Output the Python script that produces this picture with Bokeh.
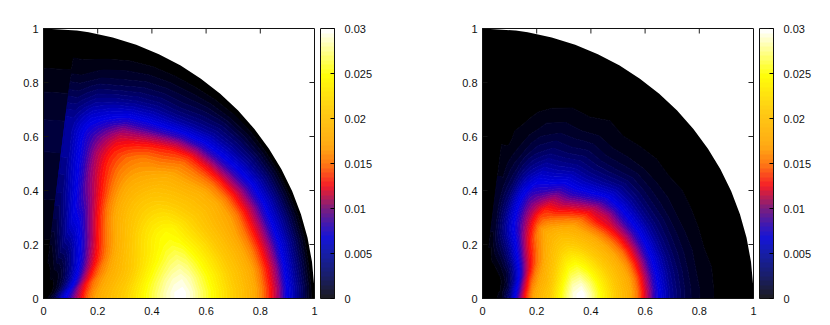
from bokeh.plotting import figure
from bokeh.layouts import row
from bokeh.models import ColorBar, FixedTicker, LinearColorMapper, Range1d
from bokeh.embed import file_html
from bokeh.resources import INLINE
import numpy as np

# Values x 1e-4; rows = rays (ray_angles), columns = radii
left_values = [
[4,22,58,85,112,142,165,178,190,202,213,228,243,258,272,285,295,298,288,272,257,242,227,213,200,185,170,148,125,100,68,45,25,6],
[4,20,52,80,108,138,160,174,186,198,208,222,237,252,265,278,287,290,281,266,251,237,222,208,195,180,165,143,120,95,64,42,23,5],
[3,18,46,74,102,130,152,167,179,190,200,213,227,241,254,265,274,278,270,256,242,228,214,200,187,172,156,135,112,88,62,42,23,6],
[3,16,40,66,94,122,145,160,172,182,192,204,217,230,242,252,261,265,258,245,232,219,205,192,178,165,148,128,106,82,58,40,22,6],
[2,12,30,52,78,106,130,148,162,174,186,198,210,222,233,243,250,252,246,234,222,210,198,186,175,165,147,125,103,80,57,39,21,5],
[2,9,24,44,66,92,116,136,152,165,178,190,203,215,226,236,243,245,240,228,216,206,196,186,176,160,140,118,95,74,53,36,20,5],
[1,7,18,34,54,77,100,120,137,152,166,180,193,206,217,225,230,230,226,217,207,198,189,180,166,150,130,105,82,62,45,31,17,4],
[1,5,14,27,44,64,85,105,123,139,154,168,182,194,204,211,215,215,212,205,197,188,177,165,153,138,118,92,70,52,38,26,14,4],
[1,4,11,21,35,52,71,90,108,125,141,155,169,181,191,198,201,201,198,193,186,178,168,157,146,130,105,80,60,44,32,22,11,3],
[1,3,8,16,28,42,58,75,92,108,125,140,154,166,175,181,184,184,181,176,170,162,151,141,130,110,85,62,45,33,24,16,8,2],
[0,2,6,12,21,32,46,60,75,90,105,120,134,146,155,161,165,167,166,163,158,152,141,128,108,85,65,48,35,25,18,12,6,1],
[0,2,5,9,16,25,35,47,60,73,86,98,110,121,130,137,143,147,149,148,145,137,126,110,90,72,55,42,31,23,16,10,5,1],
[0,2,4,8,13,20,28,37,47,57,67,77,87,96,105,113,120,125,129,130,128,122,112,98,80,62,47,35,26,19,13,8,4,1],
[0,2,5,8,13,20,27,34,42,50,58,65,72,78,84,90,95,100,103,105,102,97,88,76,62,50,38,28,20,14,10,6,3,1],
[0,1,3,5,8,12,17,22,27,32,37,42,47,52,56,60,64,68,71,73,75,74,68,60,50,40,31,23,16,11,7,4,2,1],
[0,1,2,3,5,7,9,12,15,18,21,24,27,30,32,34,37,39,41,43,44,45,43,38,32,26,20,15,10,7,5,3,2,1],
[0,0,1,1,2,3,4,5,6,7,8,9,10,11,12,13,14,15,15,16,16,16,15,14,13,11,9,7,6,4,3,2,1,0],
]
right_values = [
[0,2,10,35,85,130,168,188,205,235,265,292,300,280,255,232,210,190,172,145,112,82,58,40,28,19,13,9,6,4,3,2,1,0],
[0,2,9,32,78,125,163,183,200,228,257,283,288,270,247,225,204,185,167,140,107,78,55,38,27,18,12,8,6,4,3,2,1,0],
[0,2,8,28,70,115,155,176,192,218,245,268,272,256,235,215,196,177,158,130,100,73,52,36,25,17,12,8,5,4,3,2,1,0],
[0,2,7,24,62,105,145,168,184,208,232,252,255,241,222,203,185,166,146,120,92,68,48,33,23,16,11,7,5,4,2,2,1,0],
[0,2,5,18,50,92,132,158,176,197,218,235,238,226,208,190,172,153,132,108,84,62,44,31,22,15,10,7,5,3,2,1,1,0],
[0,1,4,14,40,76,115,145,165,185,204,218,220,210,194,177,158,138,118,96,75,56,40,28,20,14,10,7,5,3,2,1,1,0],
[0,1,3,11,32,63,100,130,152,172,191,203,205,195,180,162,143,123,112,92,70,52,38,27,19,13,9,6,4,3,2,1,1,0],
[0,1,2,8,25,52,85,116,140,160,177,188,190,180,168,152,135,117,98,80,62,47,35,25,18,12,8,6,4,3,2,1,1,0],
[0,0,2,6,19,42,72,102,127,147,164,176,172,160,146,130,112,94,76,60,46,35,26,19,14,10,7,5,4,3,2,1,0,0],
[0,0,1,5,14,32,58,85,110,132,150,163,155,142,126,110,93,77,62,49,38,29,22,16,12,8,6,4,3,2,2,1,0,0],
[0,0,1,4,12,26,46,68,90,110,125,135,138,132,118,103,87,72,58,46,36,28,22,17,12,9,6,5,3,2,1,1,0,0],
[0,0,1,3,9,20,35,52,70,88,100,108,110,106,96,84,71,58,47,38,30,23,18,14,10,7,5,4,3,2,1,1,0,0],
[0,0,1,2,7,15,26,39,54,68,78,84,87,87,82,73,63,52,43,35,27,22,17,13,10,7,5,3,2,2,1,1,0,0],
[0,0,0,2,5,11,19,28,39,48,54,58,60,60,56,50,43,36,30,24,20,16,12,10,7,5,4,3,2,1,1,0,0,0],
[0,0,0,1,4,8,13,19,25,29,32,33,32,30,27,24,21,18,15,12,10,8,6,5,4,3,2,1,1,1,0,0,0,0],
[0,0,0,1,1,3,5,8,10,12,13,14,14,13,12,10,9,8,6,5,4,4,3,2,2,1,1,1,0,0,0,0,0,0],
[0,0,0,0,0,1,1,2,2,3,3,3,3,3,3,3,2,2,2,2,1,1,1,1,1,0,0,0,0,0,0,0,0,0],
]
# Angles (degrees) of the rays above; the last ray is the coarse sector 83-90 degrees
ray_angles = [2.6, 7.8, 13, 18.2, 23.4, 28.6, 33.7, 38.9, 44.1, 49.3, 54.5, 59.6, 64.8, 70, 75.2, 80.4, 86.5]
sector_edge = 83
axis_ticks = [0, 0.2, 0.4, 0.6, 0.8, 1]
axis_labels = ["0", "0.2", "0.4", "0.6", "0.8", "1"]
bar_ticks = [0, 0.005, 0.01, 0.015, 0.02, 0.025, 0.03]
bar_labels = ["0", "0.005", "0.01", "0.015", "0.02", "0.025", "0.03"]
# Colour anchors of the map, and the somewhat washed-out ones of the colour bar
anchor_levels = [0, 25, 50, 65, 80, 100, 125, 150, 170, 210, 250, 270, 300]
map_colors = [(0, 0, 0), (0, 0, 100), (0, 0, 190), (0, 0, 230), (40, 0, 190), (150, 0, 120), (255, 10, 10),
              (255, 122, 0), (255, 170, 0), (255, 204, 0), (255, 255, 0), (255, 255, 100), (255, 255, 255)]
bar_colors = [(28, 28, 38), (25, 30, 110), (22, 30, 170), (20, 20, 215), (60, 25, 180), (125, 30, 125), (245, 30, 40),
              (255, 122, 20), (255, 170, 20), (255, 204, 20), (255, 255, 10), (255, 255, 110), (255, 255, 250)]

FONT = "Liberation Sans"
BANDS = 60
steps = np.linspace(0, 300, BANDS)


def make_palette(colors):
    return ["#%02x%02x%02x" % tuple(int(round(np.interp(s, anchor_levels, [c[k] for c in colors]))) for k in range(3))
            for s in steps]


palette = make_palette(map_colors)
bar_palette = make_palette(bar_colors)
TICK = 5 / 270


def panel(table, border_right):
    p = figure(height=320, x_range=Range1d(0, 1), y_range=Range1d(0, 1),
               output_backend="svg", toolbar_location=None,
               min_border_left=43, min_border_top=28, min_border_bottom=22, min_border_right=border_right,
               frame_width=271, frame_height=270)
    p.grid.visible = False
    p.background_fill_color = "white"
    p.outline_line_color = "#111111"

    mapper = LinearColorMapper(palette=bar_palette, low=0, high=0.03)
    vals = np.array(table, dtype=float) * 1e-4
    n_r = vals.shape[1]
    # Mesh of the polar table: rim rays repeated at 0 and 90 degrees, and at the coarse sector's edge
    radii = np.concatenate([[0], (np.arange(n_r) + 0.5) / n_r, [1]])
    rays = ray_angles[:-1]
    angles = np.radians([0] + rays + [sector_edge - 0.05, sector_edge + 0.05, 90])
    rows = np.vstack([vals[0], vals[:-1], vals[-2], vals[-1], vals[-1]])
    z = np.column_stack([np.zeros(len(rows)), rows, np.zeros(len(rows))])
    x = np.outer(np.cos(angles), radii)
    y = np.outer(np.sin(angles), radii)
    levels = np.linspace(0, 0.03, BANDS + 1)
    levels[0] = -0.001
    levels[-1] = 0.0301
    p.contour(x, y, z, levels, fill_color=palette, line_color=palette + [palette[-1]], line_width=1.1)

    for ax in (p.xaxis[0], p.yaxis[0]):
        ax.ticker = FixedTicker(ticks=axis_ticks)
        ax.major_label_overrides = dict(zip(axis_ticks, axis_labels))
        ax.major_label_text_font = FONT
        ax.major_label_text_font_size = "11px"
        ax.major_label_text_color = "#111111"
        ax.major_tick_out = 0
        ax.minor_tick_line_color = None
        ax.axis_line_color = "#111111"
        ax.major_tick_line_color = "#111111"
        ax.major_label_standoff = 5
    p.xaxis[0].major_tick_in = 0
    p.xaxis[0].major_label_standoff = 8
    p.yaxis[0].major_tick_in = 5
    p.yaxis[0].major_label_orientation = "horizontal"

    ticks = np.array(axis_ticks[1:-1])
    p.segment(ticks, 1, ticks, 1 - TICK, line_color="#222222", line_width=1)
    p.segment(1, ticks, 1 - TICK, ticks, line_color="#222222", line_width=1)

    bar = ColorBar(color_mapper=mapper, ticker=FixedTicker(ticks=bar_ticks),
                   major_label_overrides=dict(zip(bar_ticks, bar_labels)),
                   width=14, height=270, margin=0, padding=0, location=(6, 0),
                   major_tick_in=4, major_tick_line_color="black", minor_tick_line_color=None,
                   bar_line_color="#111111", border_line_color=None, background_fill_color=None,
                   major_label_text_font=FONT, major_label_text_font_size="11px",
                   major_label_text_color="#111111", label_standoff=10)
    p.add_layout(bar, "right")
    return p


left = panel(left_values, 125)
right = panel(right_values, 70)
open("out.html", "w").write(file_html(row(left, right, spacing=0), INLINE))
